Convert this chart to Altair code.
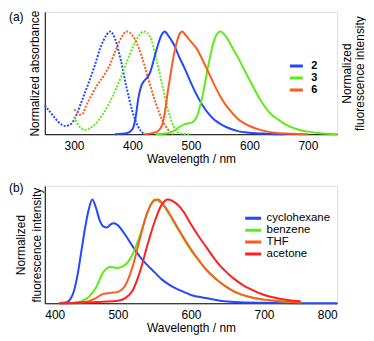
import altair as alt
import pandas as pd

# ---------- Panel (a): absorbance (dotted) and fluorescence (solid) ----------
abs2_wl = [250, 260, 270, 280, 285, 295, 305, 315, 325, 335, 345, 355, 362, 370, 380, 390, 400, 410, 420]
abs2_v = [0.28, 0.21, 0.14, 0.09, 0.08, 0.10, 0.20, 0.35, 0.50, 0.66, 0.84, 0.96, 1.0, 0.93, 0.72, 0.45, 0.22, 0.07, 0.0]

abs3_wl = [300, 310, 318, 330, 340, 350, 360, 370, 380, 390, 400, 410, 420, 430, 440, 450, 460, 470, 480, 500]
abs3_v = [0.17, 0.07, 0.04, 0.07, 0.12, 0.20, 0.30, 0.42, 0.55, 0.70, 0.84, 0.95, 1.0, 0.95, 0.75, 0.50, 0.25, 0.08, 0.01, 0.0]

abs6_wl = [300, 305, 310, 315, 320, 330, 340, 350, 360, 370, 380, 390, 400, 410, 420, 430, 440, 450, 460, 470]
abs6_v = [0.24, 0.22, 0.19, 0.20, 0.27, 0.38, 0.48, 0.56, 0.66, 0.80, 0.93, 1.0, 0.96, 0.85, 0.68, 0.48, 0.30, 0.15, 0.05, 0.0]

fl2_wl = [370, 390, 400, 405, 410, 415, 420, 425, 430, 440, 450, 455, 460, 470, 480, 490, 500, 510, 520, 530, 540, 550, 560, 580, 600, 630, 660]
fl2_v = [0.0, 0.01, 0.05, 0.15, 0.35, 0.47, 0.52, 0.55, 0.60, 0.80, 0.97, 1.0, 0.97, 0.88, 0.75, 0.63, 0.50, 0.38, 0.28, 0.20, 0.14, 0.10, 0.07, 0.03, 0.015, 0.005, 0.0]

fl3_wl = [440, 460, 470, 480, 490, 500, 510, 520, 530, 540, 550, 560, 570, 580, 590, 600, 610, 620, 630, 640, 650, 660, 680, 700, 720, 750]
fl3_v = [0.0, 0.01, 0.03, 0.07, 0.10, 0.11, 0.17, 0.38, 0.68, 0.92, 1.0, 0.95, 0.85, 0.75, 0.64, 0.53, 0.42, 0.32, 0.24, 0.18, 0.14, 0.10, 0.05, 0.025, 0.01, 0.0]

fl6_wl = [420, 440, 450, 455, 460, 465, 470, 475, 480, 485, 490, 500, 510, 520, 530, 540, 550, 560, 570, 580, 600, 620, 650, 700]
fl6_v = [0.0, 0.02, 0.08, 0.20, 0.40, 0.58, 0.75, 0.88, 0.97, 1.0, 0.97, 0.90, 0.83, 0.72, 0.60, 0.48, 0.37, 0.28, 0.21, 0.15, 0.08, 0.04, 0.01, 0.0]

compounds = ["2", "3", "6"]
compound_colors = ["#2447ff", "#5ced18", "#ff5a20"]

# ---------- Panel (b): fluorescence in solvents ----------
cyc_wl = [420, 430, 435, 440, 445, 450, 455, 460, 465, 470, 475, 480, 485, 490, 495, 500, 510, 520, 530, 540, 550, 560, 570, 580, 590, 600, 620, 640, 660, 700, 750, 800]
cyc_v = [0.0, 0.01, 0.04, 0.12, 0.28, 0.50, 0.72, 0.90, 1.0, 0.92, 0.80, 0.74, 0.73, 0.76, 0.77, 0.75, 0.66, 0.55, 0.45, 0.37, 0.30, 0.23, 0.18, 0.14, 0.11, 0.08, 0.05, 0.025, 0.012, 0.004, 0.0, 0.0]

ben_wl = [440, 450, 460, 470, 480, 490, 500, 510, 520, 530, 540, 550, 560, 570, 580, 590, 600, 610, 620, 630, 640, 650, 660, 680, 700, 720, 750]
ben_v = [0.0, 0.02, 0.06, 0.15, 0.30, 0.35, 0.34, 0.37, 0.47, 0.65, 0.86, 1.0, 0.96, 0.86, 0.74, 0.62, 0.51, 0.42, 0.33, 0.26, 0.20, 0.15, 0.11, 0.06, 0.035, 0.02, 0.01]

thf_wl = [420, 440, 460, 470, 480, 490, 500, 510, 520, 530, 540, 550, 555, 560, 570, 580, 590, 600, 610, 620, 630, 640, 650, 660, 680, 700, 720, 750]
thf_v = [0.0, 0.005, 0.02, 0.05, 0.09, 0.10, 0.11, 0.17, 0.35, 0.62, 0.87, 0.99, 1.0, 0.97, 0.87, 0.75, 0.63, 0.52, 0.42, 0.33, 0.26, 0.20, 0.15, 0.11, 0.06, 0.035, 0.02, 0.01]

ace_wl = [420, 450, 480, 500, 510, 520, 530, 540, 550, 560, 568, 580, 590, 600, 610, 620, 630, 640, 650, 660, 670, 680, 700, 720, 740, 750]
ace_v = [0.0, 0.005, 0.015, 0.025, 0.05, 0.12, 0.30, 0.55, 0.78, 0.95, 1.0, 0.96, 0.88, 0.76, 0.65, 0.55, 0.45, 0.36, 0.29, 0.23, 0.18, 0.14, 0.08, 0.045, 0.025, 0.02]

solvents = ["cyclohexane", "benzene", "THF", "acetone"]
solvent_colors = ["#2447ff", "#5ced18", "#ff5a20", "#ff2020"]

panel_labels = ["(a)", "(b)"]

FONT = "Liberation Sans"
W = 294


def frame(pairs):
    rows = []
    for name, wl, v in pairs:
        for w, y in zip(wl, v):
            rows.append({"wl": w, "val": y, "series": name})
    return pd.DataFrame(rows)


abs_df = frame([("2", abs2_wl, abs2_v), ("3", abs3_wl, abs3_v), ("6", abs6_wl, abs6_v)])
fl_df = frame([("2", fl2_wl, fl2_v), ("3", fl3_wl, fl3_v), ("6", fl6_wl, fl6_v)])
sol_df = frame([(solvents[0], cyc_wl, cyc_v), (solvents[1], ben_wl, ben_v),
                (solvents[2], thf_wl, thf_v), (solvents[3], ace_wl, ace_v)])


def xaxis(values):
    return alt.Axis(title="Wavelength / nm", values=values, ticks=False, grid=False,
                    labelPadding=6, titlePadding=2, domainColor="#000000",
                    labelFontSize=12, titleFontSize=12, titleFontWeight="normal",
                    labelColor="#000000", titleColor="#000000")


xa = alt.X("wl:Q", scale=alt.Scale(domain=[250, 750], nice=False, zero=False),
           axis=xaxis([300, 400, 500, 600, 700]))

ya_scale = alt.Scale(domain=[0, 1.19], nice=False)

color_a = alt.Color("series:N", scale=alt.Scale(domain=compounds, range=compound_colors),
                    legend=alt.Legend(title=None, orient="none", legendX=245, legendY=49,
                                      symbolType="stroke", symbolStrokeWidth=3, symbolSize=169,
                                      symbolDash=[1, 0], clipHeight=11, rowPadding=0,
                                      labelFontSize=11, labelFontWeight="bold", labelOffset=7,
                                      labelColor="#000000"))

abs_layer = alt.Chart(abs_df).mark_line(strokeDash=[2, 1.5], strokeWidth=2, interpolate="monotone").encode(
    x=xa,
    y=alt.Y("val:Q", scale=ya_scale,
            axis=alt.Axis(title="Normalized absorbance", labels=False, ticks=False, grid=False,
                          domainColor="#000000", titlePadding=3, titleFontSize=12,
                          titleFontWeight="normal", titleColor="#000000")),
    color=color_a,
    detail="series:N",
)

fl_layer = alt.Chart(fl_df).mark_line(strokeWidth=2, interpolate="monotone").encode(
    x=xa,
    y=alt.Y("val:Q", scale=ya_scale,
            axis=alt.Axis(orient="right", title=["Normalized", "fluorescence intensity"], labels=False,
                          ticks=False, grid=False, domain=False, titlePadding=3, titleFontSize=12,
                          titleAngle=270, titleFontWeight="normal", titleColor="#000000",
                          titleLineHeight=13)),
    color=alt.Color("series:N", scale=alt.Scale(domain=compounds, range=compound_colors)),
)

lab_a = alt.Chart(pd.DataFrame({"t": [panel_labels[0]]})).mark_text(
    align="left", baseline="top", fontSize=12, font=FONT, color="#000000"
).encode(text="t:N", x=alt.value(-36), y=alt.value(0))

top = alt.layer(abs_layer, fl_layer, lab_a).resolve_scale(y="independent").properties(width=W, height=123)

xb = alt.X("wl:Q", scale=alt.Scale(domain=[400, 800], nice=False, zero=False),
           axis=xaxis([400, 500, 600, 700, 800]))

sol_layer = alt.Chart(sol_df).mark_line(strokeWidth=2, interpolate="monotone").encode(
    x=xb,
    y=alt.Y("val:Q", scale=alt.Scale(domain=[0, 1.13], nice=False),
            axis=alt.Axis(title=["Normalized", "fluorescence intensity"], labels=False, ticks=False,
                          grid=False, domainColor="#000000", titlePadding=1, titleFontSize=12,
                          titleFontWeight="normal", titleColor="#000000", titleLineHeight=16)),
    color=alt.Color("series:N", scale=alt.Scale(domain=solvents, range=solvent_colors),
                    legend=alt.Legend(title=None, orient="none", legendX=200, legendY=27,
                                      symbolType="stroke", symbolStrokeWidth=3, symbolSize=256,
                                      clipHeight=11, rowPadding=0, labelFontSize=11.5,
                                      labelOffset=4, labelColor="#000000")),
    order=alt.Order("series:N"),
)

lab_b = alt.Chart(pd.DataFrame({"t": [panel_labels[1]]})).mark_text(
    align="left", baseline="top", fontSize=12, font=FONT, color="#000000"
).encode(text="t:N", x=alt.value(-36), y=alt.value(-3))

bottom = alt.layer(sol_layer, lab_b).properties(width=W, height=118)

chart = alt.vconcat(top, bottom, spacing=52, bounds="flush").resolve_scale(color="independent").configure_view(
    stroke="#a0a0a0", strokeWidth=1.5
).configure(font=FONT, background="#ffffff", padding=0)

chart.save("out.html", embed_options={"renderer": "svg", "actions": False})
